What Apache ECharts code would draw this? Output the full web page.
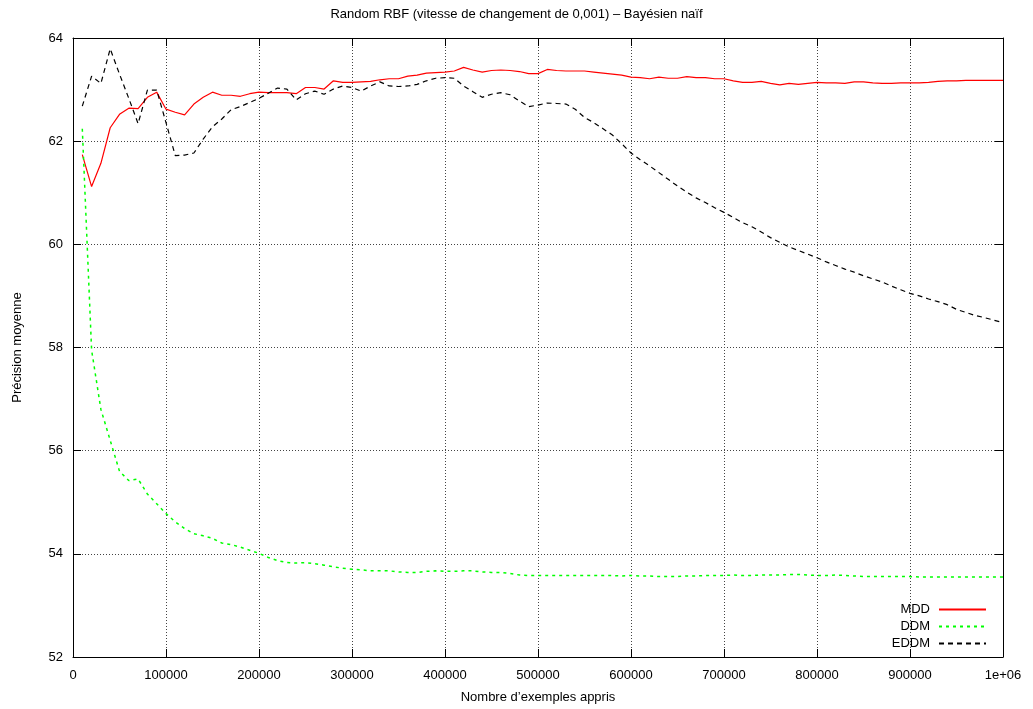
<!DOCTYPE html>
<html>
<head>
<meta charset="utf-8">
<script src="https://cdn.jsdelivr.net/npm/echarts@6/dist/echarts.min.js"></script>
<style>html,body{margin:0;padding:0;background:#fff;}#chart{width:1033px;height:709px;}</style>
</head>
<body>
<div id="chart"></div>
<script>
const titleText = "Random RBF (vitesse de changement de 0,001) – Bayésien naïf";
const xName = "Nombre d’exemples appris";
const yName = "Précision moyenne";
const seriesNames = ["MDD", "DDM", "EDDM"];

const steps = [
  10000,20000,30000,40000,50000,60000,70000,80000,90000,100000,
  110000,120000,130000,140000,150000,160000,170000,180000,190000,200000,
  210000,220000,230000,240000,250000,260000,270000,280000,290000,300000,
  310000,320000,330000,340000,350000,360000,370000,380000,390000,400000,
  410000,420000,430000,440000,450000,460000,470000,480000,490000,500000,
  510000,520000,530000,540000,550000,560000,570000,580000,590000,600000,
  610000,620000,630000,640000,650000,660000,670000,680000,690000,700000,
  710000,720000,730000,740000,750000,760000,770000,780000,790000,800000,
  810000,820000,830000,840000,850000,860000,870000,880000,890000,900000,
  910000,920000,930000,940000,950000,960000,970000,980000,990000,1000000
];

const mdd = [
  61.74,61.12,61.57,62.26,62.52,62.64,62.63,62.85,62.95,62.62,
  62.56,62.51,62.72,62.85,62.95,62.89,62.89,62.87,62.92,62.95,
  62.94,62.94,62.94,62.92,63.04,63.04,63.01,63.17,63.14,63.14,
  63.15,63.16,63.19,63.21,63.21,63.26,63.28,63.32,63.33,63.34,
  63.36,63.43,63.38,63.34,63.37,63.38,63.37,63.35,63.31,63.31,
  63.39,63.37,63.36,63.36,63.36,63.34,63.32,63.30,63.28,63.24,
  63.23,63.21,63.24,63.22,63.22,63.25,63.23,63.23,63.21,63.21,
  63.17,63.14,63.14,63.16,63.12,63.09,63.12,63.10,63.12,63.14,
  63.13,63.13,63.12,63.15,63.15,63.13,63.12,63.12,63.13,63.13,
  63.13,63.14,63.16,63.17,63.17,63.18,63.18,63.18,63.18,63.18
];

const ddm = [
  62.24,57.95,56.80,56.20,55.60,55.42,55.45,55.16,54.97,54.78,
  54.62,54.49,54.39,54.35,54.30,54.21,54.18,54.13,54.07,54.01,
  53.93,53.87,53.83,53.82,53.83,53.81,53.78,53.75,53.72,53.70,
  53.69,53.67,53.67,53.67,53.65,53.64,53.64,53.66,53.67,53.66,
  53.66,53.67,53.67,53.65,53.64,53.64,53.62,53.59,53.58,53.58,
  53.58,53.58,53.58,53.58,53.58,53.58,53.58,53.58,53.57,53.58,
  53.57,53.57,53.56,53.56,53.56,53.57,53.57,53.58,53.58,53.58,
  53.59,53.58,53.58,53.59,53.59,53.59,53.60,53.60,53.59,53.58,
  53.58,53.59,53.58,53.57,53.56,53.56,53.56,53.56,53.56,53.56,
  53.55,53.55,53.55,53.55,53.55,53.55,53.55,53.55,53.55,53.55
];

const eddm = [
  62.68,63.26,63.12,63.79,63.30,62.83,62.34,62.99,62.99,62.36,
  61.72,61.73,61.77,62.04,62.28,62.43,62.61,62.67,62.75,62.83,
  62.93,63.03,63.01,62.80,62.92,62.97,62.91,63.01,63.07,63.04,
  62.97,63.07,63.15,63.07,63.06,63.07,63.10,63.17,63.22,63.23,
  63.22,63.07,62.96,62.85,62.91,62.94,62.90,62.78,62.67,62.70,
  62.74,62.73,62.72,62.62,62.46,62.36,62.24,62.12,61.95,61.77,
  61.64,61.52,61.39,61.26,61.13,61.01,60.90,60.81,60.71,60.62,
  60.52,60.42,60.34,60.24,60.13,60.04,59.95,59.88,59.81,59.74,
  59.66,59.59,59.52,59.46,59.39,59.33,59.27,59.19,59.12,59.05,
  59.00,58.94,58.89,58.83,58.74,58.68,58.62,58.58,58.53,58.48
];

const xTickLabels = {1000000: "1e+06"};

function pairs(vals){ return steps.map((x,i)=>[x, vals[i]]); }

const font = "Liberation Sans";
const chart = echarts.init(document.getElementById('chart'), null, {renderer:'canvas'});

const gridLine = {show:true, lineStyle:{color:'#444', width:1, type:[1,2]}};
const frameLine = {show:true, onZero:false, lineStyle:{color:'#000', width:1}};

function legendFor(name, top){
  return {
    data:[name], right:46, top:top, orient:'vertical', align:'right',
    itemWidth:47, itemHeight:14, itemGap:3, padding:0,
    itemStyle:{opacity:0},
    textStyle:{fontFamily:font, fontSize:13, color:'#000', padding:[0,4,0,0]}
  };
}

chart.setOption({
  animation:false,
  backgroundColor:'#fff',
  title:{text:titleText, left:'center', top:3,
    textStyle:{fontFamily:font, fontSize:13, fontWeight:'normal', color:'#000'}},
  grid:{left:73, right:30, top:38, bottom:49, containLabel:false},
  legend:[legendFor(seriesNames[0],603), legendFor(seriesNames[1],620), legendFor(seriesNames[2],637)],
  xAxis:[{
    type:'value', min:0, max:1000000, interval:100000, position:'bottom',
    name:xName, nameLocation:'middle', nameGap:34,
    nameTextStyle:{fontFamily:font, fontSize:13, color:'#000'},
    axisLine:frameLine,
    axisTick:{show:true, inside:true, length:8, lineStyle:{color:'#000'}},
    axisLabel:{fontFamily:font, fontSize:13, color:'#000', margin:12,
      formatter:(v)=> xTickLabels[v] !== undefined ? xTickLabels[v] : String(v)},
    splitLine:gridLine
  },{
    type:'value', min:0, max:1000000, interval:100000, position:'top',
    axisLine:frameLine,
    axisTick:{show:true, inside:true, length:8, lineStyle:{color:'#000'}},
    axisLabel:{show:false}, splitLine:{show:false}
  }],
  yAxis:[{
    type:'value', min:52, max:64, interval:2, position:'left',
    name:yName, nameLocation:'middle', nameGap:49, nameRotate:90,
    nameTextStyle:{fontFamily:font, fontSize:13, color:'#000'},
    axisLine:frameLine,
    axisTick:{show:true, inside:true, length:8, lineStyle:{color:'#000'}},
    axisLabel:{fontFamily:font, fontSize:13, color:'#000', margin:10},
    splitLine:gridLine
  },{
    type:'value', min:52, max:64, interval:2, position:'right',
    axisLine:frameLine,
    axisTick:{show:true, inside:true, length:8, lineStyle:{color:'#000'}},
    axisLabel:{show:false}, splitLine:{show:false}
  }],
  series:[
    {name:seriesNames[0], type:'line', data:pairs(mdd), showSymbol:false, symbol:'none',
      lineStyle:{color:'#ff0000', width:1.2}, itemStyle:{color:'#ff0000'}},
    {name:seriesNames[1], type:'line', data:pairs(ddm), showSymbol:false, symbol:'none',
      lineStyle:{color:'#00ff00', width:1.5, type:[3,4]}, itemStyle:{color:'#00ff00'}},
    {name:seriesNames[2], type:'line', data:pairs(eddm), showSymbol:false, symbol:'none',
      lineStyle:{color:'#000000', width:1.2, type:[5,4]}, itemStyle:{color:'#000000'}}
  ]
});
</script>
</body>
</html>
